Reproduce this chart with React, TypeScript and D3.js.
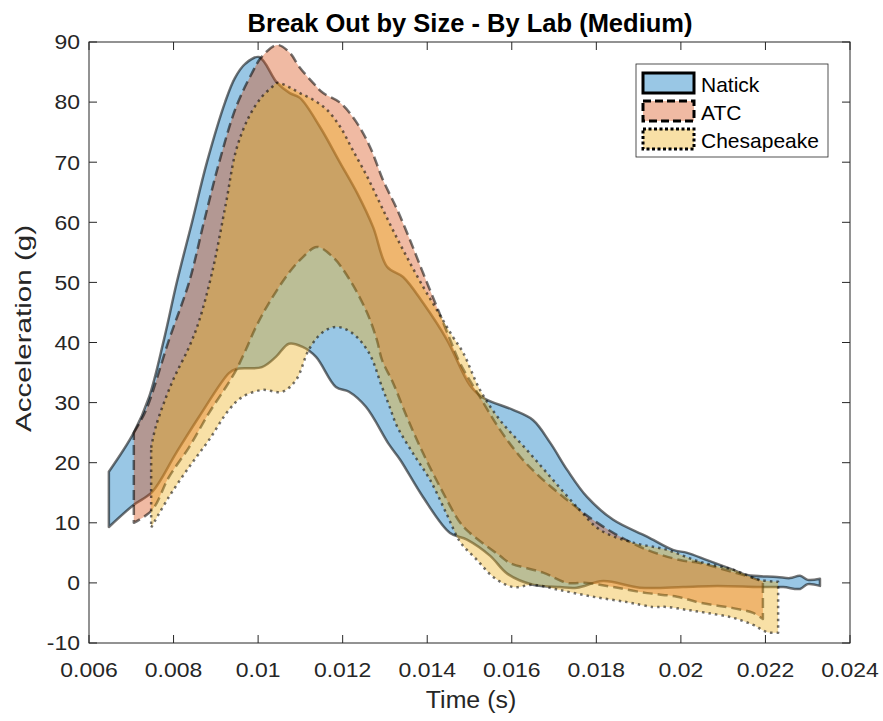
import React from "react";
import * as d3 from "d3";

type P = [number, number];

// Time (s), Acceleration (g)
const natickUpper: P[] = [
  [0.00647, 18.5], [0.00706, 25.0], [0.00742, 30.9], [0.00777, 40.4], [0.00808, 50.1],
  [0.00844, 60.1], [0.00879, 70.0], [0.00922, 80.0], [0.00945, 84.0], [0.0097, 86.4],
  [0.01002, 87.5], [0.01045, 83.2], [0.01075, 81.5], [0.01099, 80.7], [0.01146, 75.9],
  [0.01194, 69.9], [0.01234, 64.9], [0.01272, 59.2], [0.01305, 52.6], [0.01343, 50.9],
  [0.0139, 46.6], [0.01447, 40.4], [0.01501, 32.9], [0.01532, 30.8], [0.01603, 28.8],
  [0.0165, 27.1], [0.01691, 23.3], [0.01731, 18.8], [0.01778, 14.3], [0.0184, 10.5],
  [0.0192, 7.7], [0.01981, 5.5], [0.02015, 5.0], [0.02062, 3.8], [0.02123, 2.2],
  [0.02157, 1.3], [0.02227, 1.0], [0.02258, 0.8], [0.02282, 1.2], [0.023, 0.5],
  [0.02329, 0.7],
];
const natickLower: P[] = [
  [0.00647, 9.3], [0.00706, 13.0], [0.00749, 15.1], [0.00806, 21.6], [0.0086, 27.6],
  [0.00931, 34.9], [0.00948, 35.6], [0.01009, 35.9], [0.01042, 37.6], [0.01073, 39.8],
  [0.01104, 39.3], [0.01137, 37.6], [0.01184, 32.6], [0.01215, 31.8], [0.01255, 29.3],
  [0.0131, 23.0], [0.01336, 20.5], [0.0139, 14.3], [0.01454, 8.3], [0.01494, 7.2],
  [0.01549, 4.5], [0.0159, 1.5], [0.0165, -0.3], [0.01714, -0.7], [0.01754, -0.8],
  [0.01816, 0.3], [0.01903, -0.8], [0.02005, -0.7], [0.02086, -0.5], [0.02187, -0.7],
  [0.02242, -0.7], [0.02282, -1.0], [0.023, -0.2], [0.02329, -0.5],
];
const atcUpper: P[] = [
  [0.00706, 25.0], [0.00735, 28.8], [0.00789, 40.4], [0.00837, 50.1], [0.00872, 60.1],
  [0.00908, 70.0], [0.00948, 79.2], [0.00986, 84.9], [0.01007, 87.4], [0.01045, 89.5],
  [0.01075, 88.2], [0.01097, 85.9], [0.0113, 83.2], [0.01154, 81.5], [0.01194, 79.9],
  [0.01234, 76.5], [0.01265, 72.5], [0.01295, 67.1], [0.01329, 62.1], [0.01359, 57.1],
  [0.0139, 51.6], [0.01423, 45.9], [0.01454, 40.5], [0.01478, 36.5], [0.01525, 30.9],
  [0.01572, 25.5], [0.0162, 21.0], [0.01667, 17.6], [0.01731, 13.8], [0.01792, 10.5],
  [0.01856, 7.7], [0.0192, 5.5], [0.01998, 3.8], [0.02045, 3.3], [0.02123, 1.8],
  [0.02171, 0.8], [0.02194, 0.2],
];
const atcLower: P[] = [
  [0.00706, 10.0], [0.00749, 12.1], [0.00789, 17.6], [0.00837, 22.6], [0.00884, 28.3],
  [0.00924, 32.6], [0.00948, 35.4], [0.00971, 38.8], [0.00995, 42.6], [0.01026, 46.6],
  [0.01073, 51.6], [0.01106, 54.2], [0.01139, 55.9], [0.01177, 54.2], [0.01217, 50.4],
  [0.01258, 44.9], [0.01281, 40.4], [0.01293, 37.1], [0.01319, 33.3], [0.01352, 27.6],
  [0.0139, 21.6], [0.0143, 16.0], [0.01478, 10.0], [0.01501, 8.3], [0.01572, 4.5],
  [0.01596, 3.3], [0.01674, 1.7], [0.01731, 0.0], [0.01778, 0.0], [0.0184, -0.7],
  [0.0192, -1.7], [0.01991, -2.3], [0.02045, -3.3], [0.02123, -4.2], [0.02171, -5.0],
  [0.02194, -6.0],
];
const chesUpper: P[] = [
  [0.00747, 22.5], [0.00758, 26.0], [0.00796, 33.3], [0.00837, 39.3], [0.0086, 43.5],
  [0.00891, 51.6], [0.00924, 63.2], [0.00948, 72.0], [0.00978, 77.5], [0.01009, 80.9],
  [0.01033, 82.5], [0.01045, 83.2], [0.01073, 82.5], [0.01099, 81.5], [0.0113, 80.4],
  [0.01163, 78.7], [0.01194, 75.9], [0.01224, 72.0], [0.01258, 67.6], [0.01288, 63.2],
  [0.01319, 58.7], [0.01352, 54.2], [0.0139, 49.3], [0.01423, 45.4], [0.01461, 40.9],
  [0.01485, 38.3], [0.01525, 32.1], [0.01572, 27.1], [0.01636, 22.1], [0.01698, 17.1],
  [0.01761, 12.1], [0.01809, 8.8], [0.01887, 6.7], [0.01967, 5.5], [0.02045, 3.5],
  [0.02123, 2.2], [0.02187, 0.5], [0.0223, 0.2],
];
const chesLower: P[] = [
  [0.00747, 9.2], [0.00789, 14.3], [0.00837, 19.3], [0.00884, 23.8], [0.00931, 28.8],
  [0.00962, 30.9], [0.01009, 32.1], [0.01057, 31.8], [0.0109, 33.8], [0.0112, 38.8],
  [0.01151, 41.6], [0.01184, 42.6], [0.01222, 41.6], [0.01262, 38.3], [0.01293, 32.6],
  [0.0131, 29.5], [0.01329, 26.0], [0.01366, 21.6], [0.01407, 17.1], [0.01447, 11.3],
  [0.01478, 6.8], [0.01518, 3.8], [0.01556, 1.0], [0.01603, -0.7], [0.0165, -0.3],
  [0.01714, -1.2], [0.01792, -2.3], [0.01873, -3.2], [0.01934, -4.0], [0.01967, -4.0],
  [0.02015, -4.5], [0.02062, -5.0], [0.02123, -5.8], [0.02171, -7.0], [0.02204, -8.2],
  [0.0223, -8.3],
];

const labNames = ["Natick", "ATC", "Chesapeake"];
const labColors = ["#0072BD", "#D95319", "#EDB120"];
const xTicks = [0.006, 0.008, 0.01, 0.012, 0.014, 0.016, 0.018, 0.02, 0.022, 0.024];
const xTickLabels = ["0.006", "0.008", "0.01", "0.012", "0.014", "0.016", "0.018", "0.02", "0.022", "0.024"];
const yTicks = [-10, 0, 10, 20, 30, 40, 50, 60, 70, 80, 90];

const FONT = "'Liberation Sans', Arial, Helvetica, sans-serif";
const AX = "#262626";

export default function App() {
  const left = 89, right = 850, top = 42, bottom = 643;
  const x = d3.scaleLinear().domain([0.006, 0.024]).range([left, right]);
  const y = d3.scaleLinear().domain([-10, 90]).range([bottom, top]);
  const line = d3
    .line<P>()
    .x((d) => x(d[0]))
    .y((d) => y(d[1]))
    .curve(d3.curveCatmullRom.alpha(0.5));
  const band = (u: P[], l: P[]) => {
    const a = line(u) as string;
    const b = line([...l].reverse()) as string;
    return a + "L" + b.slice(1) + "Z";
  };
  const bands = [
    { u: natickUpper, l: natickLower, dash: undefined as string | undefined },
    { u: atcUpper, l: atcLower, dash: "10,5" },
    { u: chesUpper, l: chesLower, dash: "2.5,4" },
  ];
  const legendDash = [undefined, "8,4", "3,2.5"];
  const tickLen = 8;

  return (
    <svg
      width={883}
      height={721}
      style={{ position: "absolute", left: 0, top: 0, background: "#fff" }}
      fontFamily={FONT}
    >
      <rect x={0} y={0} width={883} height={721} fill="#fff" />
      {bands.map((b, i) => (
        <path
          key={i}
          d={band(b.u, b.l)}
          fill={labColors[i]}
          fillOpacity={0.4}
          stroke="#000"
          strokeOpacity={0.55}
          strokeWidth={2.5}
          strokeDasharray={b.dash}
          strokeLinejoin="round"
        />
      ))}
      <rect x={left} y={top} width={right - left} height={bottom - top} fill="none" stroke={AX} strokeWidth={1} />
      {xTicks.map((t, i) => (
        <g key={"xt" + i}>
          <line x1={x(t)} x2={x(t)} y1={bottom} y2={bottom - tickLen} stroke={AX} />
          <line x1={x(t)} x2={x(t)} y1={top} y2={top + tickLen} stroke={AX} />
          <text
            transform={`translate(${x(t)},677) scale(1.12,1)`}
            textAnchor="middle"
            fontSize={20.5}
            fill={AX}
          >
            {xTickLabels[i]}
          </text>
        </g>
      ))}
      {yTicks.map((v, i) => (
        <g key={"yt" + i}>
          <line x1={left} x2={left + tickLen} y1={y(v)} y2={y(v)} stroke={AX} />
          <line x1={right} x2={right - tickLen} y1={y(v)} y2={y(v)} stroke={AX} />
          <text
            transform={`translate(80,${y(v) + 7.3}) scale(1.12,1)`}
            textAnchor="end"
            fontSize={20.5}
            fill={AX}
          >
            {String(v)}
          </text>
        </g>
      ))}
      <text x={470} y={32} textAnchor="middle" fontWeight="bold" fontSize={25.5} fill="#000">
        Break Out by Size - By Lab (Medium)
      </text>
      <text transform="translate(471,708) scale(1.06,1)" textAnchor="middle" fontSize={23.5} fill={AX}>
        Time (s)
      </text>
      <text
        transform="translate(31,328.5) rotate(-90)"
        textAnchor="middle"
        fontSize={21.5}
        fill={AX}
        textLength={207}
        lengthAdjust="spacingAndGlyphs"
      >
        Acceleration (g)
      </text>
      <g>
        <rect x={636} y={64} width={192} height={93} fill="#fff" stroke={AX} strokeWidth={0.8} />
        {labNames.map((n, i) => (
          <g key={n}>
            <rect
              x={643}
              y={73 + i * 28}
              width={51}
              height={20}
              fill={labColors[i]}
              fillOpacity={0.4}
              stroke="#000"
              strokeWidth={3}
              strokeDasharray={legendDash[i]}
            />
            <text x={701} y={92 + i * 28} fontSize={21} fill="#000">
              {n}
            </text>
          </g>
        ))}
      </g>
    </svg>
  );
}
